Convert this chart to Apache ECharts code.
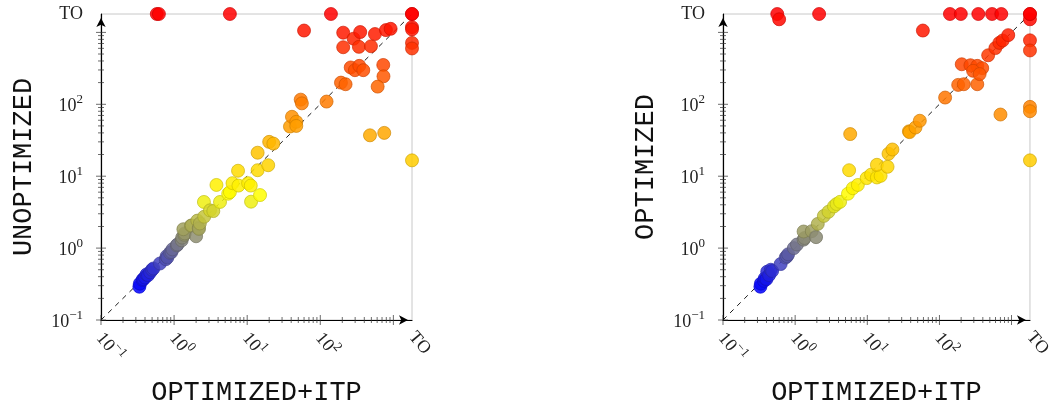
<!DOCTYPE html>
<html>
<head>
<meta charset="utf-8">
<script src="https://cdn.jsdelivr.net/npm/echarts@6/dist/echarts.min.js"></script>
<style>
html,body{margin:0;padding:0;background:#fff;}
#main{width:1054px;height:411px;}
</style>
</head>
<body>
<div id="main"></div>
<script>
// timeout value (seconds), drawn as "TO"
var TO = 1800;

// left plot: [OPTIMIZED+ITP, UNOPTIMIZED]
var unoptimizedVsItp = [
	[0.335,0.29],[0.34,0.32],[0.37,0.36],[0.38,0.37],[0.40,0.39],[0.42,0.43],[0.44,0.42],[0.47,0.46],
	[0.50,0.50],[0.52,0.52],[0.64,0.61],[0.77,0.70],[0.79,0.77],[0.81,0.74],[0.88,0.86],[0.92,0.88],
	[0.95,0.96],[1.09,1.09],[1.11,1.12],[1.27,1.28],[1.29,1.40],[1.38,1.53],[1.40,1.60],[1.34,1.83],
	[1.70,2.05],[1.74,2.06],[2.0,1.46],[2.08,2.41],[2.17,1.90],[2.19,1.85],[2.25,2.2],[2.58,2.73],
	[2.56,4.38],[3.1,3.35],[3.44,3.27],[3.8,7.55],[4.25,4.38],[5.5,5.7],[5.8,6.0],[6.3,8.0],
	[7.5,11.9],[7.6,7.4],[10.3,8.0],[11.2,7.4],[11.3,4.42],[13.9,12.1],[13.9,21.2],[15.0,5.46],
	[19.4,14.2],[20,30],[22.8,28.4],
	[38.5,49],[41,67],[47,57],[47,50],[54,116],[56,103],[122,109],[192,200],[222,190],
	[261,325],[298,298],[342,342],[388,298],[728,352],[733,245],[610,176],[479,37],[751,40],[TO,16.6],
	[60,1060],[206,990],[206,621],[286,817],[338,629],[352,1010],[494,641],[560,948],[792,1075],[918,1120],
	[TO,1180],[TO,1100],[TO,714],[TO,597],
	[0.58,TO],[0.62,TO],[5.8,TO],[140,TO],[TO,TO],[TO,TO]
];

// right plot: [OPTIMIZED+ITP, OPTIMIZED]
var optimizedVsItp = [
	[0.33,0.29],[0.335,0.32],[0.37,0.35],[0.38,0.38],[0.40,0.37],[0.41,0.47],[0.435,0.42],[0.46,0.50],
	[0.48,0.48],[0.63,0.60],[0.74,0.74],[0.77,0.77],[0.80,0.82],[0.96,1.0],[1.06,1.12],[1.31,1.31],
	[1.35,1.38],[1.31,1.70],[1.70,1.72],[1.95,1.42],[2.06,2.17],[2.5,2.8],[2.9,3.2],[3.45,3.8],
	[3.75,4.1],[4.2,4.4],[5.4,5.7],[6.3,6.8],[7.4,7.55],[5.6,12.1],[9.8,9.4],[11.3,10.5],
	[13.6,9.6],[15.3,10.1],[13.6,14.4],[19.1,13.5],[19.7,20.5],[22.3,23.5],[5.8,38.5],
	[37.8,42],[38.5,41],[46.6,47.5],[53.5,59],[120,124],[182,186],[218,190],[335,190],
	[204,360],[269,349],[335,342],[392,318],[293,292],[361,263],[474,480],[597,605],[678,714],
	[753,770],[900,915],[702,72],[TO,92],[TO,80],[TO,16.6],[TO,775],[TO,560],[TO,1520],
	[59,1060],[0.565,TO],[0.60,1520],[2.15,TO],[140,TO],[198,TO],[346,TO],[537,TO],[721,TO],
	[TO,TO],[TO,TO]
];

// axis ticks
var majorTicks = [0.1, 1, 10, 100, 1000];
var minorTicks = [0.2,0.3,0.4,0.5,0.6,0.7,0.8,0.9, 2,3,4,5,6,7,8,9,
	20,30,40,50,60,70,80,90, 200,300,400,500,600,700,800,900];

// colormap over log10(y): blue -> yellow -> orange -> red
var cmap = [[0,0,255],[255,255,0],[255,128,0],[255,0,0]];
var metaMin = Math.log10(0.29), metaMax = Math.log10(TO);

function pointColor(y, k){
	var t = (Math.log10(y) - metaMin) / (metaMax - metaMin);
	t = Math.max(0, Math.min(1, t)) * 3;
	var i = Math.min(2, Math.floor(t)), f = t - i;
	var c = cmap[i].map(function(v, j){
		return Math.round((v + (cmap[i+1][j] - v) * f) * k);
	});
	return 'rgb(' + c.join(',') + ')';
}

function tickLabel(v){
	if (v > 1500) return '{t|TO}';
	var e = Math.round(Math.log10(v));
	return '{b|10}{s|' + (e < 0 ? '\u2212' + (-e) : e) + '}';
}

var labelRich = {
	b: {fontFamily:'Liberation Serif', fontSize:18, lineHeight:22, verticalAlign:'bottom', color:'#222'},
	s: {fontFamily:'Liberation Serif', fontSize:13, lineHeight:13, verticalAlign:'top', color:'#222'},
	t: {fontFamily:'Liberation Serif', fontSize:18, lineHeight:22, color:'#222'}
};

function makeAxis(gi, name, isX){
	return {
		type:'log', logBase:10, min:0.1, max:TO, gridIndex:gi,
		name:name, nameLocation:'middle', nameGap: isX ? 59 : 64,
		nameTextStyle:{fontFamily:'Liberation Mono', fontSize:27, color:'#111'},
		axisLine:{onZero:false, lineStyle:{color:'#000', width:1.2},
			symbol:['none','arrow'], symbolSize:[7,9], symbolOffset:[0,-4]},
		axisTick:{show:false},
		splitLine:{show:false},
		axisLabel:{
			formatter:tickLabel, rich:labelRich,
			rotate: isX ? -50 : 0, margin: isX ? 14 : 18,
			showMinLabel:true, showMaxLabel:true
		}
	};
}

function tickSeries(gi, vals, isX, len){
	return {
		type:'scatter', xAxisIndex:gi, yAxisIndex:gi, silent:true, clip:false, z:3,
		symbol:'rect', symbolSize: isX ? [0.9, len] : [len, 0.9],
		itemStyle:{color:'#333'},
		data: vals.map(function(v){ return isX ? [v, 0.1] : [0.1, v]; })
	};
}

function seriesFor(gi, pts){
	return [
		{
			type:'line', xAxisIndex:gi, yAxisIndex:gi, silent:true, z:1,
			showSymbol:false, symbol:'none',
			lineStyle:{color:'#000', width:0.9, type:[5,5]},
			data:[[0.1,0.1],[TO,TO]]
		},
		tickSeries(gi, majorTicks, true, 10),
		tickSeries(gi, minorTicks, true, 6),
		tickSeries(gi, majorTicks, false, 10),
		tickSeries(gi, minorTicks, false, 6),
		{
			type:'scatter', xAxisIndex:gi, yAxisIndex:gi, clip:false, z:4,
			symbol:'circle', symbolSize:13,
			data: pts.map(function(p){
				return {
					value:p,
					itemStyle:{color:pointColor(p[1], 1), borderColor:pointColor(p[1], 0.8),
						borderWidth:0.8, opacity:0.85}
				};
			})
		}
	];
}

var myChart = echarts.init(document.getElementById('main'), null, {renderer:'canvas'});

var option = {
	backgroundColor:'#fff',
	animation:false,
	grid:[
		{left:101, top:14, width:311, height:311, show:true, borderColor:'#c8c8c8', borderWidth:1},
		{left:723, top:14, width:310, height:311, show:true, borderColor:'#c8c8c8', borderWidth:1}
	],
	xAxis:[makeAxis(0, 'OPTIMIZED+ITP', true), makeAxis(1, 'OPTIMIZED+ITP', true)],
	yAxis:[makeAxis(0, 'UNOPTIMIZED', false), makeAxis(1, 'OPTIMIZED', false)],
	series: seriesFor(0, unoptimizedVsItp).concat(seriesFor(1, optimizedVsItp))
};

myChart.setOption(option);
</script>
</body>
</html>
